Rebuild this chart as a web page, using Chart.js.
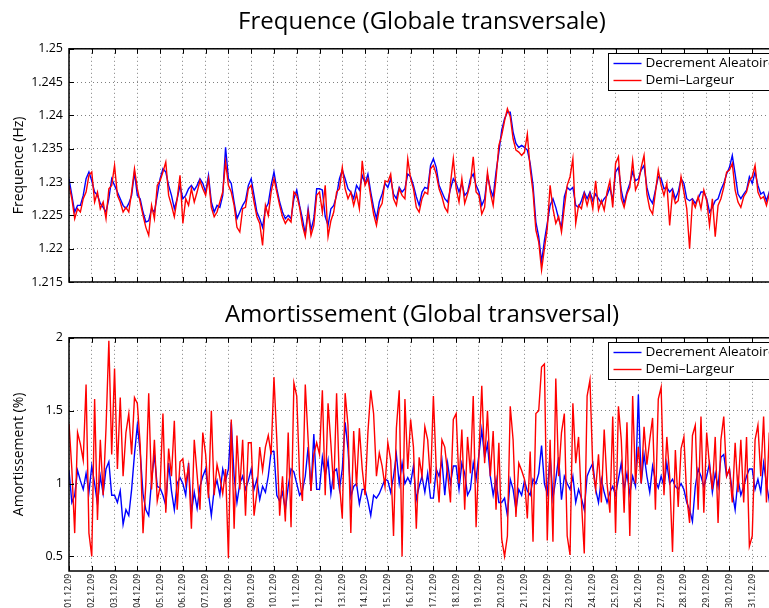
<!DOCTYPE html>
<html>
<head>
<meta charset="utf-8">
<script src="https://cdn.jsdelivr.net/npm/chart.js@4.4.1/dist/chart.umd.min.js"></script>
<style>
  html, body { margin: 0; padding: 0; background: #fff; overflow: hidden; width: 769px; height: 608px; }
  #wrap { position: relative; width: 800px; height: 608px; }
  canvas { position: absolute; left: 0; }
</style>
</head>
<body>
<div id="wrap">
  <canvas id="freqChart" width="800" height="300" style="top:0"></canvas>
  <canvas id="dampChart" width="800" height="318" style="top:290px"></canvas>
</div>
<script>
// one sample every 3 hours, from 01.12.09 00h
const SAMPLES_PER_DAY = 8;

const dayLabels = ['01.12.09', '02.12.09', '03.12.09', '04.12.09', '05.12.09', '06.12.09', '07.12.09', '08.12.09',
  '09.12.09', '10.12.09', '11.12.09', '12.12.09', '13.12.09', '14.12.09', '15.12.09', '16.12.09', '17.12.09',
  '18.12.09', '19.12.09', '20.12.09', '21.12.09', '22.12.09', '23.12.09', '24.12.09', '25.12.09', '26.12.09',
  '27.12.09', '28.12.09', '29.12.09', '30.12.09', '31.12.09', '01.01.10'];

const seriesNames = ['Decrement Aleatoire', 'Demi\u2013Largeur'];

const freqTicks = [1.215, 1.22, 1.225, 1.23, 1.235, 1.24, 1.245, 1.25];
const dampTicks = [0.5, 1, 1.5, 2];

const freqDecrement = [
  1.2305, 1.228, 1.2255, 1.2265, 1.2265, 1.228, 1.2305, 1.2315,
  1.2302, 1.2285, 1.228, 1.2268, 1.2262, 1.2255, 1.2275, 1.2305,
  1.2295, 1.2285, 1.2275, 1.2265, 1.226, 1.2268, 1.228, 1.2315,
  1.228, 1.2275, 1.2255, 1.224, 1.2242, 1.226, 1.2255, 1.228,
  1.2305, 1.232, 1.2315, 1.2295, 1.228, 1.226, 1.2275, 1.2295,
  1.2275, 1.228, 1.229, 1.2295, 1.2288, 1.2295, 1.2305, 1.2298,
  1.2285, 1.231, 1.227, 1.2255, 1.2265, 1.2262, 1.228, 1.2352,
  1.2305, 1.2298, 1.227, 1.2245, 1.2255, 1.2265, 1.2272, 1.2295,
  1.2305, 1.228, 1.2255, 1.2245, 1.2232, 1.226, 1.2268, 1.2295,
  1.2315, 1.229, 1.227, 1.2255, 1.2245, 1.225, 1.2245, 1.2275,
  1.2288, 1.2265, 1.2245, 1.2222, 1.226, 1.2228, 1.2245, 1.229,
  1.229, 1.2288, 1.2248, 1.2235, 1.226, 1.2265, 1.228, 1.2305,
  1.2318, 1.2305, 1.229, 1.2285, 1.2275, 1.2295, 1.2288, 1.231,
  1.2298, 1.2312, 1.2285, 1.2262, 1.2245, 1.227, 1.2282, 1.2298,
  1.2292, 1.2305, 1.2282, 1.2275, 1.2292, 1.2285, 1.229, 1.2312,
  1.2308, 1.2295, 1.2278, 1.2265, 1.2285, 1.2292, 1.229, 1.2325,
  1.2335, 1.2322, 1.2295, 1.2285, 1.2275, 1.227, 1.229, 1.2305,
  1.2298, 1.2285, 1.2298, 1.228, 1.2285, 1.2305, 1.2312, 1.2295,
  1.2285, 1.2265, 1.2275, 1.231, 1.229, 1.2278, 1.2315, 1.2345,
  1.2378, 1.2395, 1.2405, 1.2405, 1.2375, 1.2358, 1.2352, 1.2355,
  1.2352, 1.2348, 1.2328, 1.2295, 1.224, 1.2218, 1.218, 1.2212,
  1.2238, 1.2265, 1.2275, 1.2262, 1.2245, 1.2232, 1.2278, 1.2292,
  1.2288, 1.2292, 1.2265, 1.2262, 1.2272, 1.2285, 1.2275, 1.2285,
  1.2272, 1.2282, 1.2275, 1.2268, 1.2275, 1.228, 1.2292, 1.2272,
  1.2315, 1.2322, 1.2288, 1.2268, 1.2285, 1.2298, 1.2315, 1.2302,
  1.2305, 1.2318, 1.2325, 1.2292, 1.2275, 1.2268, 1.2288, 1.2308,
  1.2305, 1.229, 1.2292, 1.2285, 1.229, 1.2275, 1.2285, 1.2305,
  1.2298, 1.2275, 1.2272, 1.2275, 1.2268, 1.2275, 1.2285, 1.2285,
  1.2275, 1.2255, 1.2262, 1.2272, 1.2275, 1.2288, 1.2298, 1.2312,
  1.2322, 1.234, 1.2312, 1.2282, 1.2275, 1.2282, 1.2288, 1.2308,
  1.2298, 1.2315, 1.2295, 1.2282, 1.2285, 1.2272, 1.2285, 1.2305,
  1.2305
];

const freqDemiLargeur = [
  1.2295, 1.2275, 1.2245, 1.226, 1.2255, 1.2275, 1.2285, 1.231,
  1.2315, 1.227, 1.2285, 1.226, 1.227, 1.2245, 1.229, 1.2295,
  1.2325, 1.228, 1.227, 1.2255, 1.2262, 1.2255, 1.2285, 1.232,
  1.229, 1.227, 1.225, 1.2232, 1.222, 1.2265, 1.2245, 1.2295,
  1.2302, 1.2315, 1.233, 1.228, 1.2265, 1.2248, 1.2275, 1.231,
  1.2238, 1.2275, 1.2265, 1.229, 1.227, 1.2285, 1.2302, 1.229,
  1.228, 1.2305, 1.2262, 1.2248, 1.2255, 1.227, 1.2285, 1.233,
  1.2295, 1.2285, 1.2265, 1.2232, 1.2225, 1.226, 1.2262, 1.229,
  1.2295, 1.227, 1.2248, 1.2238, 1.2205, 1.2265, 1.225, 1.2285,
  1.2305, 1.2285, 1.2265, 1.2248, 1.2238, 1.2245, 1.224, 1.2285,
  1.228, 1.2262, 1.2235, 1.2218, 1.2255, 1.222, 1.2235, 1.228,
  1.2285, 1.2255, 1.2295, 1.2218, 1.2242, 1.2255, 1.2285, 1.229,
  1.2322, 1.229, 1.2275, 1.2285, 1.2265, 1.2282, 1.226, 1.2332,
  1.2295, 1.2305, 1.2278, 1.2252, 1.2235, 1.226, 1.2268, 1.2302,
  1.23, 1.2312, 1.2275, 1.2265, 1.229, 1.228, 1.2275, 1.2335,
  1.2305, 1.229, 1.2262, 1.2255, 1.2275, 1.2285, 1.2282, 1.232,
  1.2325, 1.2312, 1.229, 1.2278, 1.2262, 1.2255, 1.2298, 1.2335,
  1.229, 1.227, 1.2305, 1.2268, 1.2282, 1.2298, 1.2338, 1.2285,
  1.228, 1.2252, 1.2262, 1.2315, 1.2285, 1.2265, 1.2305, 1.2355,
  1.237, 1.2392, 1.241, 1.2398, 1.2365, 1.2348, 1.2345, 1.234,
  1.2345, 1.2372, 1.232, 1.2285, 1.2228, 1.221, 1.2168, 1.22,
  1.223, 1.2295, 1.226, 1.2238, 1.2248, 1.2225, 1.2262, 1.2295,
  1.2308, 1.2335, 1.2238, 1.2265, 1.226, 1.2282, 1.2265, 1.2282,
  1.226, 1.2302, 1.2258, 1.2272, 1.2258, 1.2285, 1.2302, 1.2262,
  1.2328, 1.2338, 1.2275, 1.2262, 1.2282, 1.2292, 1.2332, 1.2288,
  1.2298, 1.2322, 1.234, 1.2282, 1.226, 1.2252, 1.2285, 1.2318,
  1.2295, 1.228, 1.2298, 1.2235, 1.2285, 1.2268, 1.2272, 1.2308,
  1.2285, 1.226, 1.22, 1.2272, 1.2262, 1.2278, 1.226, 1.2288,
  1.2272, 1.2235, 1.2275, 1.2218, 1.2265, 1.2275, 1.2292, 1.2315,
  1.2318, 1.2328, 1.2288, 1.227, 1.2262, 1.2278, 1.2285, 1.2302,
  1.2308, 1.2325, 1.2285, 1.2275, 1.2278, 1.2265, 1.2282, 1.2312,
  1.2298
];

const dampDecrement = [
  1.09, 0.87, 0.92, 1.09, 1.02, 0.96, 1.07, 0.94,
  1.12, 1.0, 0.86, 1.05, 0.93, 1.1, 1.15, 0.92,
  0.92, 0.87, 0.95, 0.72, 0.82, 0.78, 0.96, 1.2,
  1.4, 1.22, 0.93, 0.82, 0.78, 1.02, 1.2, 0.98,
  0.97, 0.92, 0.85, 1.14, 0.95, 0.82, 1.0, 1.04,
  1.0, 0.92, 1.14, 0.8, 0.94, 0.83, 0.98, 1.05,
  1.1, 0.93, 0.78, 0.96, 1.02, 0.92, 1.1, 1.02,
  1.1, 1.42, 1.05, 0.87, 1.0, 1.05, 0.96, 1.02,
  1.1, 0.96, 1.03, 0.89, 0.98, 0.94, 1.05, 1.22,
  1.22, 0.92, 0.88, 0.94, 0.82, 0.98, 1.1, 1.08,
  1.0, 0.92, 0.95, 1.05, 1.25, 0.95, 1.34, 0.96,
  0.96, 1.18, 1.05, 1.16, 0.93, 1.08, 1.1, 0.96,
  1.1, 1.42, 1.24, 0.91, 0.98, 1.0, 0.86, 0.96,
  0.96, 0.88, 0.78, 0.92, 0.9, 0.93, 0.98, 1.03,
  1.02, 0.94, 1.05, 1.2, 1.0, 1.14, 1.0, 1.04,
  1.0, 1.12, 0.89, 0.98, 1.05, 0.94, 1.07, 0.9,
  0.9, 1.1, 1.05, 1.16, 0.92, 1.14, 1.0, 1.12,
  1.12, 0.96, 1.14, 1.07, 0.92, 0.96, 1.14, 1.03,
  1.2, 1.37, 1.18, 1.27, 1.05, 0.92, 1.03, 0.87,
  0.87, 0.9, 0.78, 1.03, 0.96, 0.82, 0.96, 0.92,
  1.02, 0.95, 0.92, 1.03, 1.0, 1.07, 1.26, 1.0,
  0.93, 1.2, 0.9, 1.03, 1.18, 0.89, 1.05, 1.0,
  0.96, 1.05, 0.87, 0.96, 0.9, 0.82, 1.05, 1.1,
  1.14, 0.96, 0.87, 1.03, 0.94, 0.87, 0.94, 0.98,
  0.92, 1.03, 1.14, 0.96, 1.07, 0.93, 1.05, 0.98,
  1.61, 1.0, 1.2, 1.05, 0.94, 1.12, 1.02, 0.97,
  1.05, 0.98, 1.14, 1.0, 1.03, 0.98, 0.96, 1.0,
  0.96, 0.87, 0.82, 0.74, 0.98, 1.1, 1.05, 0.98,
  1.05, 1.14, 0.94, 1.07, 0.98, 1.18, 1.2, 1.05,
  1.1, 0.94, 0.82, 1.03, 0.92, 0.98, 1.05, 1.1,
  1.1, 0.96, 1.03, 0.94, 1.14, 1.0, 0.88, 1.05,
  1.02
];

const dampDemiLargeur = [
  1.41, 1.1, 0.66, 1.35, 1.27, 1.16, 1.68, 0.66,
  0.5, 1.58, 0.75, 1.3, 0.92, 1.38, 1.98, 1.2,
  1.79, 1.1, 1.59, 1.05, 1.35, 1.48, 1.2, 1.59,
  1.55, 1.27, 0.66, 1.0, 1.62, 0.96, 1.3, 0.88,
  0.98, 1.48, 0.8, 1.24, 1.05, 1.43, 0.82, 1.15,
  1.17, 1.0, 1.12, 0.69, 1.3, 1.06, 0.82, 1.35,
  1.2, 0.9, 1.5, 0.92, 1.13, 1.04, 0.93, 1.1,
  0.49, 1.44, 0.69, 1.33, 0.96, 1.3, 0.78, 1.28,
  1.28, 0.78, 0.94, 1.25, 1.09, 1.25, 1.33, 1.2,
  1.73, 1.3, 0.78, 1.05, 0.74, 1.35, 0.7, 1.69,
  1.6, 1.05, 0.88, 1.68, 1.3, 0.95, 1.2, 1.28,
  1.2, 1.64, 0.92, 1.55, 1.27, 0.96, 1.62, 1.0,
  0.76, 1.62, 1.4, 0.66, 1.36, 0.98, 1.38, 1.1,
  0.92, 1.35, 1.64, 1.48, 1.05, 1.21, 1.12, 0.98,
  1.28, 1.16, 0.64, 1.38, 1.64, 0.5, 1.58, 1.1,
  1.44, 1.25, 0.69, 1.18, 1.05, 1.39, 1.3, 1.0,
  1.6, 1.1, 0.87, 1.3, 1.25, 1.07, 0.87, 1.44,
  1.48, 1.0, 1.37, 0.82, 1.32, 1.07, 1.6, 0.7,
  1.2, 1.67, 1.14, 1.5, 1.05, 1.36, 0.82, 1.28,
  0.62, 0.5, 0.64, 1.53, 1.3, 0.77, 1.14, 1.09,
  1.03, 0.76, 1.22, 0.6, 1.48, 1.5, 1.8, 1.82,
  0.61, 1.3, 0.6, 1.72, 1.05, 1.35, 1.48, 0.64,
  0.51, 1.55, 1.14, 1.32, 0.88, 0.52, 1.6, 1.71,
  1.1, 0.96, 1.2, 0.87, 1.37, 1.0, 0.8, 1.46,
  0.66, 1.53, 1.3, 0.8, 1.42, 0.64, 1.6, 1.0,
  1.25, 1.0, 1.39, 1.13, 1.3, 1.45, 0.82, 1.58,
  1.66, 0.92, 1.32, 1.05, 0.53, 1.23, 0.84, 1.24,
  1.32, 0.91, 0.73, 1.33, 1.4, 0.82, 1.46, 0.8,
  1.35, 1.12, 0.96, 1.32, 0.73, 1.3, 1.46, 1.05,
  1.1, 0.87, 1.28, 0.94, 1.3, 0.87, 1.32, 0.57,
  0.64, 1.3, 1.4, 1.05, 1.46, 0.87, 1.35, 1.1,
  1.2
];

Chart.defaults.font.family = '"Open Sans", "DejaVu Sans", sans-serif';
Chart.defaults.color = '#000';

const GRID_COLOR = 'rgba(0,0,0,0.5)';

function toPoints(values) {
  return values.map((v, i) => ({ x: i / SAMPLES_PER_DAY, y: v }));
}

// MATLAB look: black box, ticks pointing inward, boxed legend in the top right corner
const matlabFrame = {
  id: 'matlabFrame',
  afterDraw(chart) {
    const { ctx, chartArea: a, scales } = chart;
    ctx.save();
    ctx.strokeStyle = '#000';
    ctx.lineWidth = 1;
    ctx.beginPath();
    scales.x.ticks.forEach(t => {
      const px = Math.round(scales.x.getPixelForValue(t.value)) + 0.5;
      ctx.moveTo(px, a.bottom); ctx.lineTo(px, a.bottom - 5);
      ctx.moveTo(px, a.top); ctx.lineTo(px, a.top + 5);
    });
    scales.y.ticks.forEach(t => {
      const py = Math.round(scales.y.getPixelForValue(t.value)) + 0.5;
      ctx.moveTo(a.left, py); ctx.lineTo(a.left + 5, py);
      ctx.moveTo(a.right, py); ctx.lineTo(a.right - 5, py);
    });
    ctx.stroke();
    ctx.lineWidth = 1.5;
    ctx.strokeRect(a.left, a.top, a.right - a.left, a.bottom - a.top);

    const lx = Math.round(a.right - 167) + 0.5, ly = Math.round(a.top + 4) + 0.5;
    ctx.fillStyle = '#fff';
    ctx.fillRect(lx, ly, 200, 37);
    ctx.lineWidth = 1;
    ctx.strokeRect(lx, ly, 200, 37);
    ctx.font = '13.5px "Open Sans"';
    ctx.textBaseline = 'middle';
    chart.data.datasets.forEach((ds, i) => {
      const yy = ly + 10 + i * 17;
      ctx.strokeStyle = ds.borderColor;
      ctx.lineWidth = 1.4;
      ctx.beginPath(); ctx.moveTo(lx + 5, yy); ctx.lineTo(lx + 33, yy); ctx.stroke();
      ctx.fillStyle = '#000';
      ctx.fillText(ds.label, lx + 37, yy);
    });
    ctx.restore();
  }
};

function makeChart(id, opts) {
  return new Chart(document.getElementById(id), {
    type: 'line',
    data: {
      datasets: [
        { label: seriesNames[0], data: toPoints(opts.blue), borderColor: '#0000ff', order: 1 },
        { label: seriesNames[1], data: toPoints(opts.red), borderColor: '#ff0000', order: 0 }
      ]
    },
    options: {
      responsive: false,
      animation: false,
      events: [],
      layout: { padding: { right: 25 } },
      elements: { point: { radius: 0 }, line: { borderWidth: 1.4, tension: 0 } },
      plugins: {
        legend: { display: false },
        tooltip: { enabled: false },
        title: {
          display: true, text: opts.title, fullSize: false,
          font: { size: 24, weight: 'normal' }, padding: opts.titlePadding
        }
      },
      scales: {
        x: {
          type: 'linear', min: 0, max: dayLabels.length - 1,
          afterBuildTicks: s => { s.ticks = dayLabels.map((_, i) => ({ value: i })); },
          afterFit: s => { s.height = opts.xHeight; },
          ticks: {
            display: opts.showDates, autoSkip: false, minRotation: 90, maxRotation: 90,
            padding: 3, font: { size: 8.5 },
            callback: v => dayLabels[v]
          },
          grid: { drawTicks: false, color: GRID_COLOR },
          border: { display: false, dash: [1, 3] }
        },
        y: {
          min: opts.yMin,
          max: opts.ticks[opts.ticks.length - 1],
          afterBuildTicks: s => { s.ticks = opts.ticks.map(v => ({ value: v })); },
          afterFit: s => { s.width = 69; },
          ticks: { padding: 6, font: { size: 12.5 }, callback: v => String(+v.toFixed(3)) },
          title: { display: true, text: opts.yTitle, font: { size: 14 }, padding: { top: 11, bottom: 0 } },
          grid: { drawTicks: false, color: GRID_COLOR },
          border: { display: false, dash: [1, 3] }
        }
      }
    },
    plugins: [matlabFrame]
  });
}

makeChart('freqChart', {
  title: 'Frequence (Globale transversale)',
  yTitle: 'Frequence (Hz)',
  blue: freqDecrement, red: freqDemiLargeur,
  ticks: freqTicks, yMin: 1.215,
  titlePadding: { top: 8, bottom: 12 },
  xHeight: 18,
  showDates: false
});

makeChart('dampChart', {
  title: 'Amortissement (Global transversal)',
  yTitle: 'Amortissement (%)',
  blue: dampDecrement, red: dampDemiLargeur,
  ticks: dampTicks, yMin: 0.4,
  titlePadding: { top: 11, bottom: 8 },
  xHeight: 37,
  showDates: true
});
</script>
</body>
</html>
